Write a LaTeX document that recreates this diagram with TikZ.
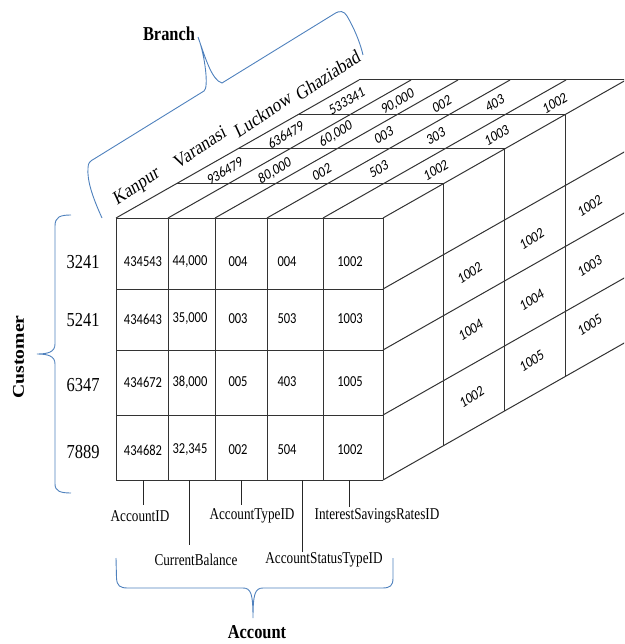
\documentclass[tikz,border=0pt]{standalone}
\usepackage{fontspec}
\setmainfont{Liberation Serif}
\newfontfamily\calfont{Carlito}
\definecolor{bblue}{RGB}{79,129,189}
\begin{document}
\begin{tikzpicture}[x=1pt,y=-1pt,
  cube/.style={draw=black!80, line width=1pt},
  tick/.style={draw=black!85, line width=0.8pt},
  brc/.style={draw=bblue, line width=0.9pt},
  num/.style={font=\calfont\fontsize{12.5}{14}\selectfont, inner sep=0pt, yscale=1.22},
  topnum/.style={num, rotate=26},
  sidenum/.style={num, rotate=28},
  lab/.style={font=\fontsize{16.5}{18}\selectfont, inner sep=0pt, yscale=1.2},
  blab/.style={font=\bfseries\fontsize{16.4}{18}\selectfont, inner sep=0pt, yscale=1.2},
  alab/.style={font=\fontsize{13.2}{15}\selectfont, inner sep=0pt, yscale=1.25},
  brname/.style={lab, rotate=29},
]
\useasboundingbox (0,0) rectangle (624,644);
\clip (0,0) rectangle (624,644);

% ---------- cube ----------
% front face
\foreach \x in {116,168,215,267,323,383} \draw[cube] (\x,218) -- (\x,480);
\foreach \y in {218,289,350,415,480} \draw[cube] (116,\y) -- (383,\y);
% top face
\foreach \x in {116,168,215,267,323,383} \draw[cube] (\x,218) -- ++(243,-138);
\foreach \k in {1,2,3,4} \draw[cube] ({116+\k*60.75},{218-\k*34.5}) -- ({383+\k*60.75},{218-\k*34.5});
% right face
\foreach \k in {1,2,3,4} \draw[cube] ({383+\k*60.75},{218-\k*34.5}) -- ({383+\k*60.75},{480-\k*34.5});
\foreach \y in {289,350,415,480} \draw[cube] (383,\y) -- ++(243,-138);

% ---------- front face values ----------
\node[num] (f11) at (143,262) {434543};
\node[num] (f12) at (190,262) {44,000};
\node[num] (f13) at (238,262) {004};
\node[num] (f14) at (287,262) {004};
\node[num] (f15) at (350,262) {1002};
\node[num] (f21) at (143,319) {434643};
\node[num] (f22) at (190,319) {35,000};
\node[num] (f23) at (238,319) {003};
\node[num] (f24) at (287,319) {503};
\node[num] (f25) at (350,319) {1003};
\node[num] (f31) at (143,382) {434672};
\node[num] (f32) at (190,382) {38,000};
\node[num] (f33) at (238,382) {005};
\node[num] (f34) at (287,382) {403};
\node[num] (f35) at (350,382) {1005};
\node[num] (f41) at (143,450) {434682};
\node[num] (f42) at (190,450) {32,345};
\node[num] (f43) at (238,450) {002};
\node[num] (f44) at (287,450) {504};
\node[num] (f45) at (350,450) {1002};

% ---------- top face values ----------
\node[topnum] (t11) at (225,171) {936479};
\node[topnum] (t12) at (275,171) {80,000};
\node[topnum] (t13) at (322,172) {002};
\node[topnum] (t14) at (379,169) {503};
\node[topnum] (t15) at (436,170) {1002};
\node[topnum] (t21) at (286,135) {636479};
\node[topnum] (t22) at (336,134) {60,000};
\node[topnum] (t23) at (384,135) {003};
\node[topnum] (t24) at (436,136) {303};
\node[topnum] (t25) at (497,135) {1003};
\node[topnum] (t31) at (347,101) {533341};
\node[topnum] (t32) at (398,102) {90,000};
\node[topnum] (t33) at (442,104) {002};
\node[topnum] (t34) at (495,103) {403};
\node[topnum] (t35) at (555,103) {1002};

% ---------- right face values ----------
\node[sidenum] (s12) at (470,273) {1002};
\node[sidenum] (s13) at (471,330) {1004};
\node[sidenum] (s14) at (472,397) {1002};
\node[sidenum] (s22) at (532,239) {1002};
\node[sidenum] (s23) at (532,300) {1004};
\node[sidenum] (s24) at (532,361) {1005};
\node[sidenum] (s32) at (590,206) {1002};
\node[sidenum] (s33) at (590,266) {1003};
\node[sidenum] (s34) at (590,325) {1005};

% ---------- branch names ----------
\node[brname] (kan) at (137,187) {Kanpur};
\node[brname] (var) at (200,147) {Varanasi};
\node[brname] (luc) at (263,114) {Lucknow};
\node[brname] (gha) at (328,75) {Ghaziabad};
\node[blab] (branch) at (169,34) {Branch};

% ---------- customers ----------
\node[lab] (c1) at (83,262) {3241};
\node[lab] (c2) at (83,320) {5241};
\node[lab] (c3) at (83,385) {6347};
\node[lab] (c4) at (83,452) {7889};
\node[blab, rotate=90] (cust) at (18.5,357) {Customer};

% ---------- account attributes ----------
\node[alab] (lA) at (140,516) {AccountID};
\node[alab] (lB) at (196,560) {CurrentBalance};
\node[alab] (lC) at (252,516) {AccountTypeID};
\node[alab] (lD) at (324,560) {AccountStatusTypeID};
\node[alab] (lE) at (377,516) {InterestSavingsRatesID};
\node[blab] (acc) at (257,632) {Account};

\coordinate (tA) at (143,480); \coordinate (eA) at (143,505);
\coordinate (tB) at (189,480); \coordinate (eB) at (189,545);
\coordinate (tC) at (241,480); \coordinate (eC) at (241,505);
\coordinate (tD) at (302,480); \coordinate (eD) at (302,552);
\coordinate (tE) at (349,480); \coordinate (eE) at (349,507);
\draw[tick] (tA) -- (eA);
\draw[tick] (tB) -- (eB);
\draw[tick] (tC) -- (eC);
\draw[tick] (tD) -- (eD);
\draw[tick] (tE) -- (eE);

% ---------- braces ----------
% Branch brace
\draw[brc] (102,218) .. controls (92,196) and (87,180) .. (88,168)
  .. controls (88,163) and (90,161) .. (94,159) -- (204,91)
  .. controls (209,88) and (205,55) .. (198,37)
  .. controls (206,60) and (212,80) .. (222,83) -- (334,14)
  .. controls (340,10) and (344,11) .. (347,16)
  .. controls (354,28) and (360,42) .. (363,55);
% Customer brace
\draw[brc] (71,215) .. controls (60,215) and (55,217) .. (55,226) -- (55,344)
  .. controls (55,352) and (48,354) .. (37,354)
  .. controls (48,354) and (55,356) .. (55,364) -- (55,484)
  .. controls (55,491) and (60,493) .. (71,493);
% Account brace
\draw[brc] (116,558) -- (116.5,578) .. controls (117,586) and (120,588) .. (128,588) -- (243,588)
  .. controls (251,588) and (253,594) .. (253,618)
  .. controls (253,594) and (255,588) .. (263,588) -- (382,588)
  .. controls (390,588) and (393,586) .. (393,578) -- (393,558);
\end{tikzpicture}
\end{document}
